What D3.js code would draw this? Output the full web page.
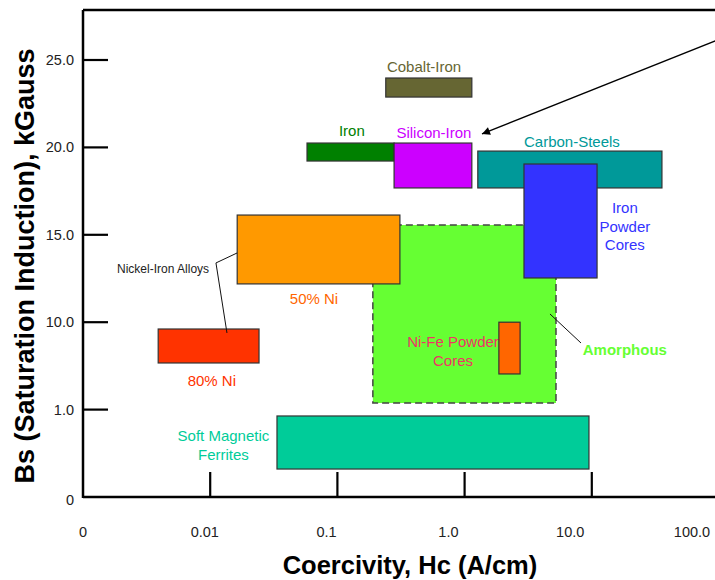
<!DOCTYPE html>
<html>
<head>
<meta charset="utf-8">
<script src="https://cdn.jsdelivr.net/npm/d3@7/dist/d3.min.js"></script>
<style>
  html, body { margin: 0; padding: 0; background: #fff; }
  svg { display: block; font-family: "Liberation Sans", Arial, sans-serif; }
</style>
</head>
<body>
<svg id="chart" width="715" height="580"></svg>
<script>
// ---- data ----
const xTickLabels = ["0", "0.01", "0.1", "1.0", "10.0", "100.0"];
const xTickValues = [0.01, 0.1, 1, 10, 100];
const yTickLabels = ["0", "1.0", "10.0", "15.0", "20.0", "25.0"];
const yTickValues = [0, 1, 10, 15, 20, 25];

// materials (draw order), coercivity range (A/cm) and saturation range (axis units)
const materials = ["Soft Magnetic Ferrites", "Amorphous", "80% Ni", "50% Ni", "Ni-Fe Powder Cores",
                   "Iron", "Silicon-Iron", "Cobalt-Iron", "Carbon-Steels", "Iron Powder Cores"];
const hcLow  = [0.0335, 0.19, 0.0039, 0.0163, 1.86, 0.0577, 0.279, 0.24, 1.27, 2.93];
const hcHigh = [9.5, 5.23, 0.0242, 0.31, 2.73, 0.279, 1.14, 1.14, 35.6, 11.0];
const bsLow  = [0.32, 1.68, 5.8, 12.19, 4.67, 19.22, 17.68, 22.88, 17.68, 12.53];
const bsHigh = [0.927, 15.56, 9.3, 16.13, 10.0, 20.25, 20.25, 23.97, 19.79, 19.05];

// label texts and anchor points (data units)
const labelTexts = [["Soft Magnetic", "Ferrites"], ["Amorphous"], ["80% Ni"], ["50% Ni"], ["Ni-Fe Powder", "Cores"],
                    ["Iron"], ["Silicon-Iron"], ["Cobalt-Iron"], ["Carbon-Steels"], ["Iron", "Powder", "Cores"],
                    ["Nickel-Iron Alloys"]];
const labelHc = [0.0127, 18.2, 0.0103, 0.0655, 0.811, 0.130, 0.574, 0.48, 6.98, 18.2, 0.00426];
const labelBs = [0.589, 7.14, 3.95, 11.33, 6.98, 20.94, 20.82, 24.6, 20.31, 15.45, 13.10];

// leader lines (data units)
const nickelLeaderHc = [0.01627, 0.0111, 0.01355];
const nickelLeaderBs = [13.96, 13.39, 8.89];
const amorphLeaderHc = [4.69, 8.22];
const amorphLeaderBs = [10.47, 7.86];
const arrowHc = [149, 1.37];
const arrowBs = [26.68, 20.77];

const yTop = 27.86;

// ---- styles ----
const fills = {
  "Soft Magnetic Ferrites": "#00cc99", "Amorphous": "#66ff33", "80% Ni": "#ff3300", "50% Ni": "#ff9900",
  "Ni-Fe Powder Cores": "#ff6600", "Iron": "#008000", "Silicon-Iron": "#cc00ff", "Cobalt-Iron": "#666633",
  "Carbon-Steels": "#009999", "Iron Powder Cores": "#3333ff"
};
const labelColors = ["#00cc99", "#66ff33", "#ff3300", "#ff6600", "#ee3366", "#008000", "#cc00ff",
                     "#666633", "#009999", "#3333ff", "#222"];
const labelSizes = [15, 15, 15, 15, 15, 15, 15, 15, 15, 15, 12];
const labelWeights = ["normal", "bold", "normal", "normal", "normal", "normal", "normal", "normal", "normal", "normal", "normal"];

// ---- scales ----
const x = d3.scaleLog().domain([0.001, 100]).range([83, 719]);
const y = d3.scaleLinear().domain([0, 1, 10, 15, 20, 25, yTop]).range([497, 409.6, 322.2, 234.8, 147.4, 60, 10]);
const xLab = d3.scalePoint().domain(xTickLabels).range([83, 692]);

const svg = d3.select("#chart");

// ---- boxes ----
const boxes = materials.map((m, i) => ({ name: m, x0: hcLow[i], x1: hcHigh[i], y0: bsLow[i], y1: bsHigh[i] }));
const drawBox = d => svg.append("rect")
  .attr("x", x(d.x0)).attr("y", y(d.y1))
  .attr("width", x(d.x1) - x(d.x0)).attr("height", y(d.y0) - y(d.y1))
  .attr("fill", fills[d.name])
  .attr("stroke", d.name === "Amorphous" ? "#444" : "#333")
  .attr("stroke-width", d.name === "Amorphous" ? 1.5 : 1.2)
  .attr("stroke-dasharray", d.name === "Amorphous" ? "7,4" : null);

// labels
function drawLabel(i) {
  const lines = labelTexts[i];
  const lh = 18.5;
  const t = svg.append("text")
    .attr("x", x(labelHc[i]))
    .attr("y", y(labelBs[i]) - (lines.length - 1) * lh / 2 + 5)
    .attr("text-anchor", "middle")
    .attr("fill", labelColors[i])
    .attr("font-size", labelSizes[i])
    .attr("font-weight", labelWeights[i]);
  lines.forEach((l, k) => t.append("tspan").attr("x", x(labelHc[i])).attr("dy", k === 0 ? 0 : lh).text(l));
}

// draw order: boxes, with Ni-Fe label beneath the small orange box
boxes.forEach((d, i) => {
  if (d.name === "Ni-Fe Powder Cores") drawLabel(i);
  drawBox(d);
});
labelTexts.forEach((_, i) => { if (materials[i] !== "Ni-Fe Powder Cores") drawLabel(i); });

// leader lines
const line = d3.line().x(d => x(d[0])).y(d => y(d[1]));
svg.append("path").attr("d", line(d3.zip(nickelLeaderHc, nickelLeaderBs)))
  .attr("fill", "none").attr("stroke", "#111").attr("stroke-width", 1);
svg.append("path").attr("d", line(d3.zip(amorphLeaderHc, amorphLeaderBs)))
  .attr("fill", "none").attr("stroke", "#111").attr("stroke-width", 1);

// arrow
svg.append("defs").append("marker")
  .attr("id", "arr").attr("viewBox", "0 0 10 10").attr("refX", 10).attr("refY", 5)
  .attr("markerWidth", 10).attr("markerHeight", 8).attr("markerUnits", "userSpaceOnUse")
  .attr("orient", "auto")
  .append("path").attr("d", "M0,0 L10,5 L0,10 Z").attr("fill", "#000");
svg.append("path").attr("d", line(d3.zip(arrowHc, arrowBs)))
  .attr("fill", "none").attr("stroke", "#000").attr("stroke-width", 1.3)
  .attr("marker-end", "url(#arr)");

// ---- axes frame ----
const x0 = x(0.001), yB = y(0), yT = y(yTop);
svg.append("line").attr("x1", x0).attr("x2", x0).attr("y1", yT).attr("y2", yB + 1).attr("stroke", "#000").attr("stroke-width", 2.5);
svg.append("line").attr("x1", x0).attr("x2", 720).attr("y1", yB).attr("y2", yB).attr("stroke", "#000").attr("stroke-width", 2.5);
svg.append("line").attr("x1", x0).attr("x2", 720).attr("y1", yT).attr("y2", yT).attr("stroke", "#000").attr("stroke-width", 2.5);

// y ticks
yTickValues.filter(v => v > 0).forEach(v => {
  svg.append("line").attr("x1", x0).attr("x2", x0 + 25).attr("y1", y(v)).attr("y2", y(v))
    .attr("stroke", "#000").attr("stroke-width", 2.2);
});
yTickValues.forEach((v, i) => {
  svg.append("text").attr("x", 74).attr("y", y(v) + 5 + (v === 0 ? 3 : 0))
    .attr("text-anchor", "end").attr("font-size", 14.5).attr("fill", "#222").text(yTickLabels[i]);
});

// x ticks
xTickValues.forEach(v => {
  svg.append("line").attr("x1", x(v)).attr("x2", x(v)).attr("y1", yB).attr("y2", yB - 25)
    .attr("stroke", "#000").attr("stroke-width", 2.2);
});
xTickLabels.forEach(l => {
  svg.append("text").attr("x", xLab(l)).attr("y", 537)
    .attr("text-anchor", "middle").attr("font-size", 14.5).attr("fill", "#222").text(l);
});

// axis titles
svg.append("text").attr("x", 410).attr("y", 574).attr("text-anchor", "middle")
  .attr("font-size", 25.5).attr("font-weight", "bold").attr("fill", "#000")
  .text("Coercivity, Hc (A/cm)");
svg.append("text").attr("transform", "translate(34,266) rotate(-90)").attr("text-anchor", "middle")
  .attr("font-size", 27).attr("font-weight", "bold").attr("fill", "#000")
  .text("Bs (Saturation Induction), kGauss");
</script>
</body>
</html>
